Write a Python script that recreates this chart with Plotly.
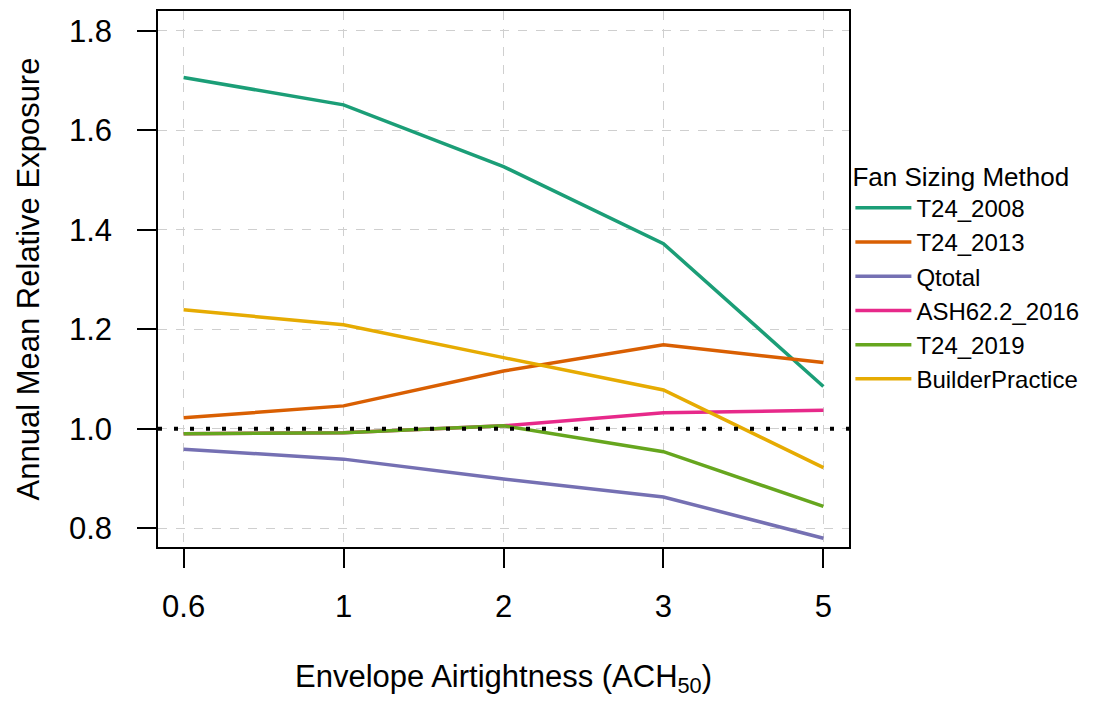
import plotly.graph_objects as go

# Envelope airtightness levels (ACH50), plotted as evenly spaced categories
ach50 = ["0.6", "1", "2", "3", "5"]

# Annual mean relative exposure by fan sizing method
t24_2008 = [1.706, 1.651, 1.527, 1.372, 1.085]
t24_2013 = [1.022, 1.046, 1.116, 1.169, 1.133]
qtotal = [0.959, 0.939, 0.899, 0.863, 0.780]
ash62_2016 = [0.990, 0.992, 1.006, 1.032, 1.037]
t24_2019 = [0.990, 0.992, 1.006, 0.954, 0.844]
builder_practice = [1.239, 1.209, 1.143, 1.078, 0.922]

series_names = ["T24_2008", "T24_2013", "Qtotal", "ASH62.2_2016", "T24_2019", "BuilderPractice"]
series_values = [t24_2008, t24_2013, qtotal, ash62_2016, t24_2019, builder_practice]
# Dark2 palette
series_colors = ["#1B9E77", "#D95F02", "#7570B3", "#E7298A", "#66A61E", "#E6AB02"]

y_ticks = [0.8, 1.0, 1.2, 1.4, 1.6, 1.8]
y_tick_text = ["0.8", "1.0", "1.2", "1.4", "1.6", "1.8"]

FONT = "Liberation Sans, Arial, Helvetica, sans-serif"

fig = go.Figure()
for name, vals, color in zip(series_names, series_values, series_colors):
    fig.add_trace(go.Scatter(
        x=ach50, y=vals, name=name, mode="lines",
        line=dict(color=color, width=3.5),
    ))

# Reference line at relative exposure = 1
fig.add_shape(
    type="line", xref="paper", x0=0, x1=1, yref="y", y0=1.0, y1=1.0,
    line=dict(color="black", width=4, dash="4px,12px"), layer="above",
)

axis_common = dict(
    showline=True, linecolor="black", linewidth=1.5, mirror=True,
    ticks="outside", ticklen=19, tickwidth=1.5, tickcolor="black",
    showgrid=True, gridcolor="#CFCFCF", gridwidth=1, griddash="dash",
    zeroline=False, tickfont=dict(size=31, color="black", family=FONT),
)

fig.update_xaxes(
    **axis_common,
    type="category", range=[-0.16, 4.16],
    ticklabelstandoff=12,
    title=dict(text="Envelope Airtightness (ACH<sub>50</sub>)",
               font=dict(size=31, color="black", family=FONT), standoff=42),
)
fig.update_yaxes(
    **axis_common,
    range=[0.7624, 1.8396], tickvals=y_ticks, ticktext=y_tick_text,
    ticklabelstandoff=19,
    title=dict(text="Annual Mean Relative Exposure",
               font=dict(size=31, color="black", family=FONT), standoff=20),
)

fig.update_layout(
    width=1120, height=701,
    margin=dict(l=158, r=271, t=11, b=154, autoexpand=False),
    paper_bgcolor="white", plot_bgcolor="white",
    font=dict(family=FONT, color="black"),
    showlegend=True,
    legend=dict(
        title=dict(text="Fan Sizing Method", font=dict(size=26, family=FONT, color="black"), side="top"),
        font=dict(size=24, family=FONT, color="black"),
        itemwidth=56,
        x=1.002, xanchor="left", y=0.737, yanchor="top",
        bgcolor="rgba(0,0,0,0)", borderwidth=0,
    ),
)

fig.write_html("out.html")
